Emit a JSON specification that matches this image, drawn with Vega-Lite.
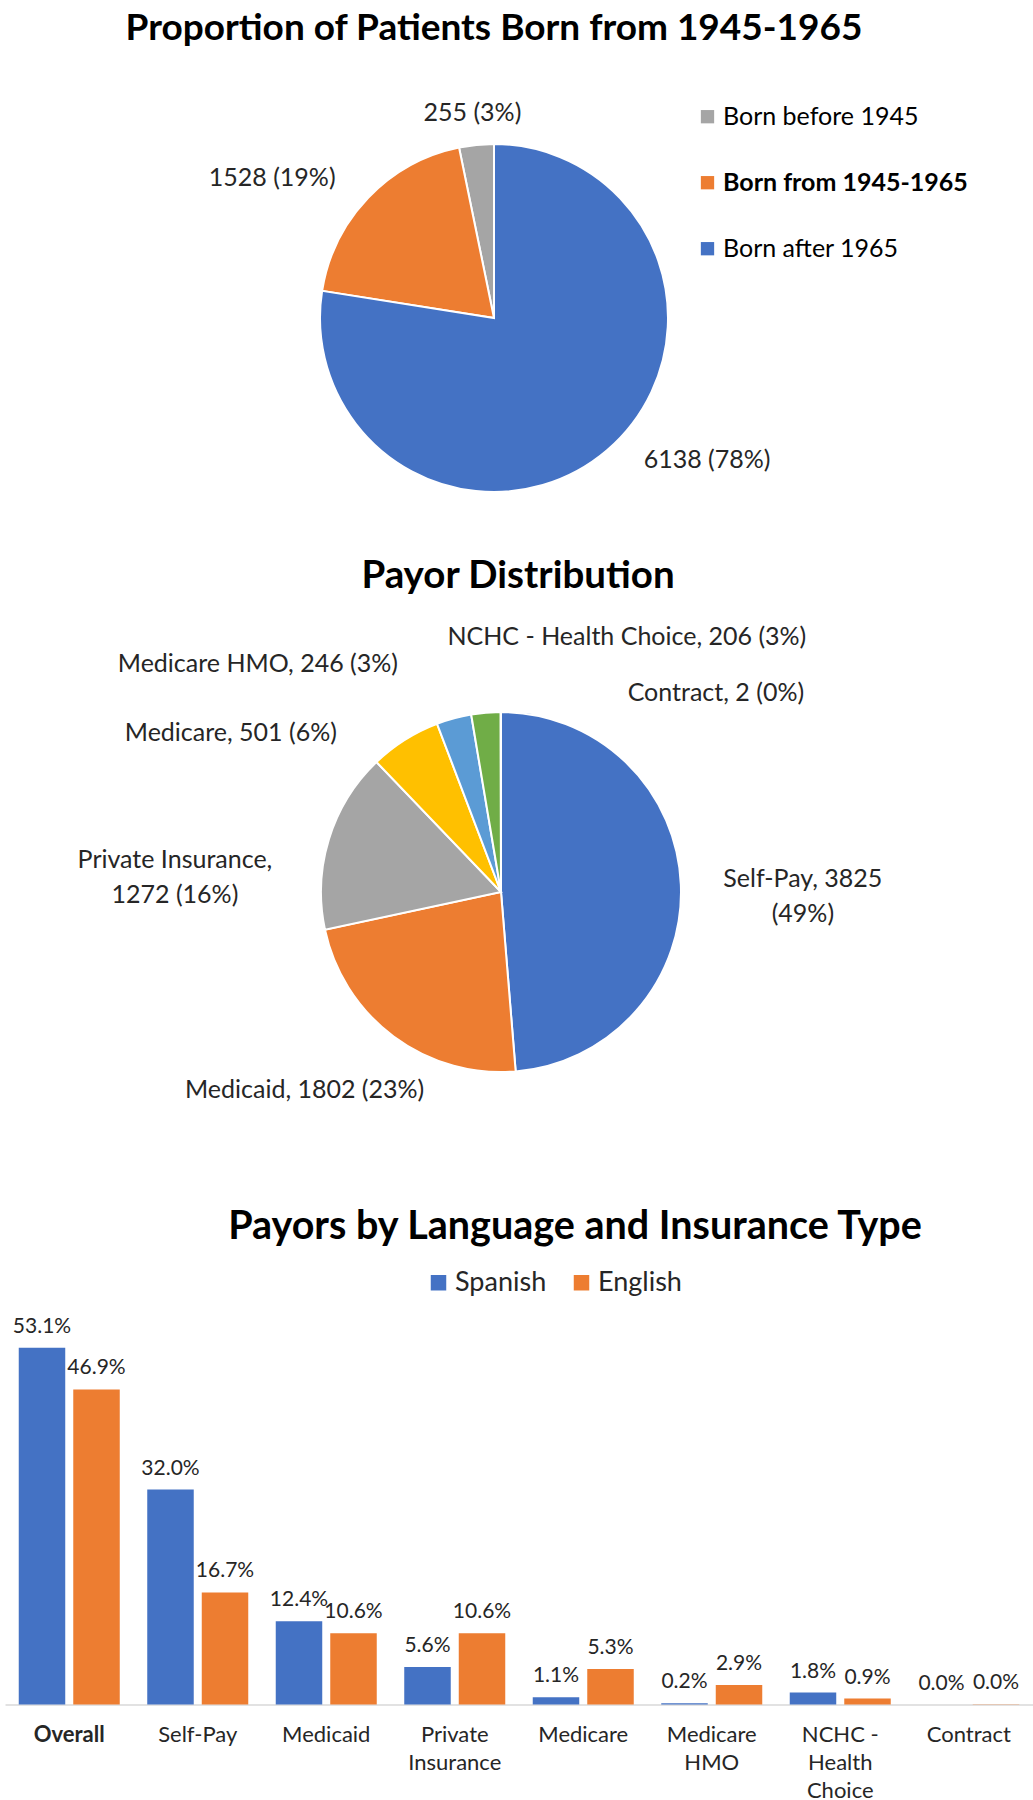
{
  "$schema": "https://vega.github.io/schema/vega-lite/v6.json",
  "background": "white",
  "padding": {"left": 5, "top": 9, "right": 0, "bottom": 0},
  "bounds": "flush",
  "spacing": 220,
  "config": {
    "font": "Lato",
    "view": {"stroke": null},
    "title": {"font": "Lato", "fontWeight": "bold", "color": "#000000", "anchor": "middle", "frame": "group"}
  },
  "resolve": {"scale": {"color": "independent", "theta": "independent"}, "legend": {"color": "independent"}},
  "vconcat": [
    {
      "width": 978,
      "height": 348,
      "title": {"text": "Proportion of Patients Born from 1945-1965", "offset": 53, "fontSize": 37},
      "data": {"values": [
        {"group": "Born before 1945", "count": 255, "label": "255 (3%)"},
        {"group": "Born from 1945-1965", "count": 1528, "label": "1528 (19%)"},
        {"group": "Born after 1965", "count": 6138, "label": "6138 (78%)"}
      ]},
      "encoding": {
        "theta": {"field": "count", "type": "quantitative", "stack": true},
        "order": {"field": "count", "type": "quantitative", "sort": "descending"}
      },
      "layer": [
        {
          "mark": {"type": "arc", "outerRadius": 174, "stroke": "white", "strokeWidth": 2},
          "encoding": {
            "color": {
              "field": "group", "type": "nominal",
              "scale": {"domain": ["Born before 1945", "Born from 1945-1965", "Born after 1965"], "range": ["#A5A5A5", "#ED7D31", "#4472C4"]},
              "legend": {
                "orient": "none", "legendX": 690, "legendY": -39.8, "title": null, "padding": 0,
                "symbolType": "square", "symbolSize": 177, "symbolStrokeWidth": 0,
                "labelFont": "Lato", "labelFontSize": 25, "labelColor": "#000000", "labelOffset": 3,
                "rowPadding": 40, "labelLimit": 400,
                "labelFontWeight": {"expr": "datum.label === 'Born from 1945-1965' ? 'bold' : 'normal'"}
              }
            }
          }
        },
        {
          "mark": {
            "type": "text", "radius": 174, "font": "Lato", "fontSize": 25, "color": "#262626",
            "align": "center", "baseline": "middle",
            "dx": {"expr": "datum.group === 'Born after 1965' ? 100 : datum.group === 'Born from 1945-1965' ? -96 : -4"},
            "dy": {"expr": "datum.group === 'Born after 1965' ? 10 : datum.group === 'Born from 1945-1965' ? -20 : -32"}
          },
          "encoding": {"text": {"field": "label", "type": "nominal"}}
        }
      ]
    },
    {
      "width": 992,
      "height": 360,
      "title": {"text": "Payor Distribution", "offset": 28, "dx": 17, "fontSize": 38.5},
      "data": {"values": [
        {"payor": "Self-Pay", "count": 3825, "label": "Self-Pay, 3825\n(49%)"},
        {"payor": "Medicaid", "count": 1802, "label": "Medicaid, 1802 (23%)"},
        {"payor": "Private Insurance", "count": 1272, "label": "Private Insurance,\n1272 (16%)"},
        {"payor": "Medicare", "count": 501, "label": "Medicare, 501 (6%)"},
        {"payor": "Medicare HMO", "count": 246, "label": "Medicare HMO, 246 (3%)"},
        {"payor": "NCHC - Health Choice", "count": 206, "label": "NCHC - Health Choice, 206 (3%)"},
        {"payor": "Contract", "count": 2, "label": "Contract, 2 (0%)"}
      ]},
      "encoding": {
        "theta": {"field": "count", "type": "quantitative", "stack": true},
        "order": {"field": "count", "type": "quantitative", "sort": "descending"}
      },
      "layer": [
        {
          "mark": {"type": "arc", "outerRadius": 180, "stroke": "white", "strokeWidth": 2},
          "encoding": {
            "color": {
              "field": "payor", "type": "nominal",
              "scale": {"domain": ["Self-Pay", "Medicaid", "Private Insurance", "Medicare", "Medicare HMO", "NCHC - Health Choice", "Contract"],
                        "range": ["#4472C4", "#ED7D31", "#A5A5A5", "#FFC000", "#5B9BD5", "#70AD47", "#264478"]},
              "legend": null
            }
          }
        },
        {
          "mark": {
            "type": "text", "radius": 180, "font": "Lato", "fontSize": 25, "color": "#262626",
            "align": "center", "baseline": "middle", "lineBreak": "\n", "lineHeight": 35,
            "dx": {"expr": "datum.payor === 'Self-Pay' ? 122 : datum.payor === 'Medicaid' ? -89 : datum.payor === 'Private Insurance' ? -154 : datum.payor === 'Medicare' ? -174 : datum.payor === 'Medicare HMO' ? -196 : datum.payor === 'NCHC - Health Choice' ? 141 : 215"},
            "dy": {"expr": "datum.payor === 'Self-Pay' ? -6 : datum.payor === 'Medicaid' ? 54 : datum.payor === 'Private Insurance' ? 21 : datum.payor === 'Medicare' ? -7 : datum.payor === 'Medicare HMO' ? -54 : datum.payor === 'NCHC - Health Choice' ? -76 : -19"}
          },
          "encoding": {"text": {"field": "label", "type": "nominal"}}
        }
      ]
    },
    {
      "width": 1028,
      "height": 412.6,
      "title": {"text": "Payors by Language and Insurance Type", "offset": 22, "dx": 56, "fontSize": 39.5},
      "data": {"values": [
        {"category": "Overall", "language": "Spanish", "share": 0.531},
        {"category": "Overall", "language": "English", "share": 0.469},
        {"category": "Self-Pay", "language": "Spanish", "share": 0.320},
        {"category": "Self-Pay", "language": "English", "share": 0.167},
        {"category": "Medicaid", "language": "Spanish", "share": 0.124},
        {"category": "Medicaid", "language": "English", "share": 0.106},
        {"category": "Private Insurance", "language": "Spanish", "share": 0.056},
        {"category": "Private Insurance", "language": "English", "share": 0.106},
        {"category": "Medicare", "language": "Spanish", "share": 0.011},
        {"category": "Medicare", "language": "English", "share": 0.053},
        {"category": "Medicare HMO", "language": "Spanish", "share": 0.002},
        {"category": "Medicare HMO", "language": "English", "share": 0.029},
        {"category": "NCHC - Health Choice", "language": "Spanish", "share": 0.018},
        {"category": "NCHC - Health Choice", "language": "English", "share": 0.009},
        {"category": "Contract", "language": "Spanish", "share": 0.0},
        {"category": "Contract", "language": "English", "share": 0.0004}
      ]},
      "encoding": {
        "x": {
          "field": "category", "type": "nominal", "sort": null,
          "scale": {"paddingInner": 0.214, "paddingOuter": 0.107},
          "axis": {
            "title": null, "domainColor": "#D9D9D9", "domainWidth": 1.5, "ticks": false, "tickSize": 0,
            "labelPadding": 20, "labelFont": "Lato", "labelFontSize": 22, "labelColor": "#262626",
            "labelAngle": 0, "labelLineHeight": 28, "labelLimit": 200,
            "labelFontWeight": {"condition": {"test": "datum.value === 'Overall'", "value": "bold"}, "value": "normal"},
            "labelExpr": "datum.value === 'Private Insurance' ? ['Private', 'Insurance'] : datum.value === 'Medicare HMO' ? ['Medicare', 'HMO'] : datum.value === 'NCHC - Health Choice' ? ['NCHC -', 'Health', 'Choice'] : datum.label"
          }
        },
        "xOffset": {"field": "language", "type": "nominal", "sort": ["Spanish", "English"], "scale": {"paddingInner": 0.147, "paddingOuter": 0}},
        "y": {"field": "share", "type": "quantitative", "scale": {"domain": [0, 0.614], "nice": false}, "axis": null}
      },
      "layer": [
        {
          "mark": {"type": "bar"},
          "encoding": {
            "color": {
              "field": "language", "type": "nominal",
              "scale": {"domain": ["Spanish", "English"], "range": ["#4472C4", "#ED7D31"]},
              "legend": {
                "orient": "none", "legendX": 420, "legendY": -23, "direction": "horizontal", "title": null, "padding": 0,
                "symbolType": "square", "symbolSize": 240, "symbolStrokeWidth": 0,
                "labelFont": "Lato", "labelFontSize": 27, "labelColor": "#262626", "labelOffset": 3, "columnPadding": 21
              }
            }
          }
        },
        {
          "mark": {"type": "text", "font": "Lato", "fontSize": 21, "color": "#262626", "baseline": "alphabetic", "dy": -15},
          "encoding": {"text": {"field": "share", "type": "quantitative", "format": ".1%"}}
        }
      ]
    }
  ]
}
